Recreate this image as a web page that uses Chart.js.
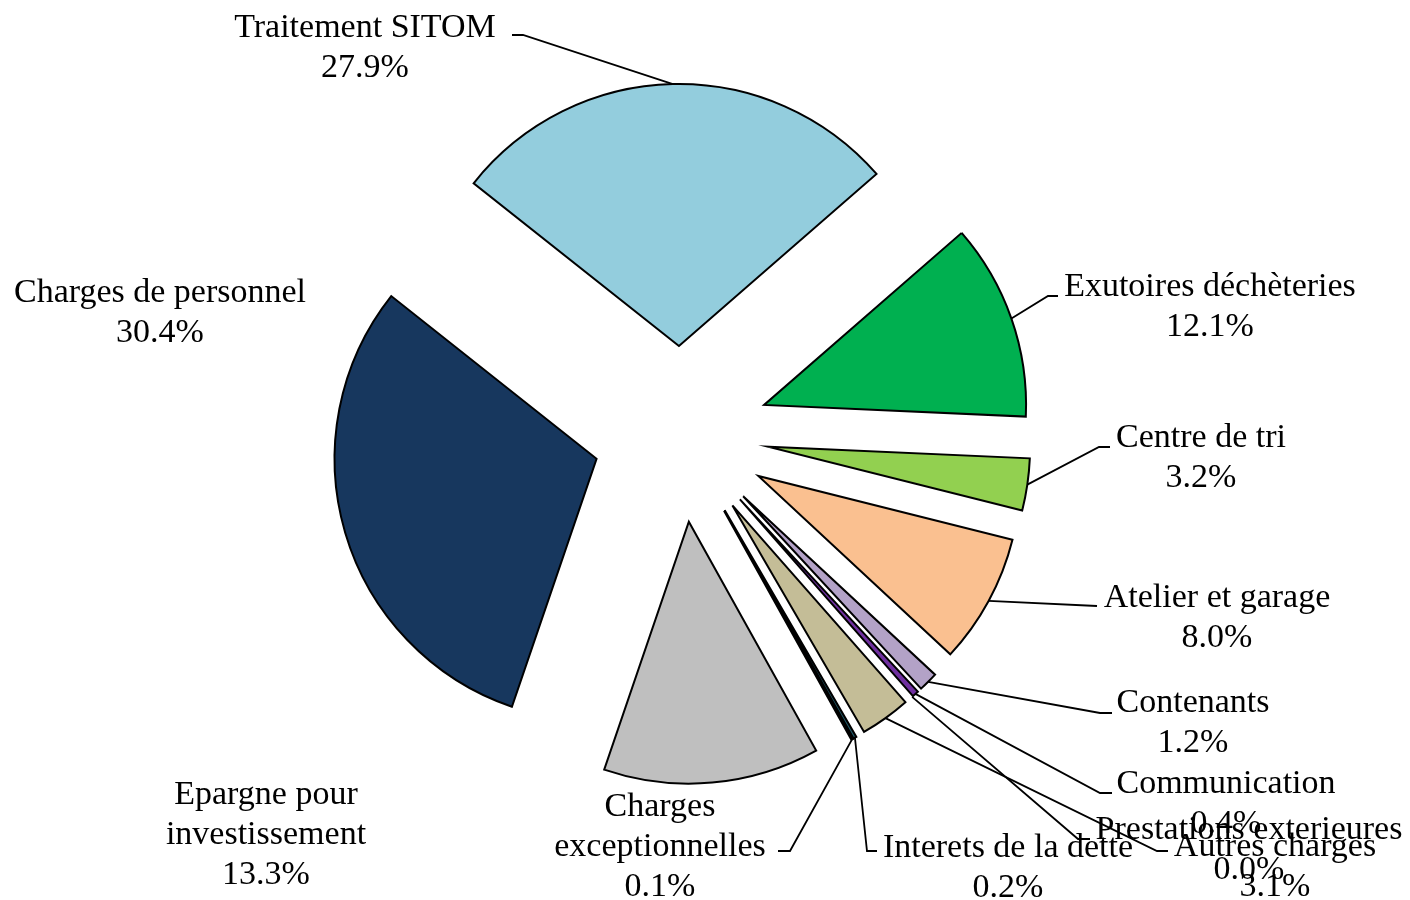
<!DOCTYPE html>
<html lang="fr">
<head>
  <meta charset="UTF-8" />
  <title>Répartition des charges</title>
  <script src="https://cdn.jsdelivr.net/npm/chart.js"></script>
  <style>
    html, body {
      margin: 0;
      padding: 0;
      background: #ffffff;
    }
    #chargesChart {
      display: block;
    }
  </style>
</head>
<body>
  <canvas id="chargesChart" width="1410" height="900"></canvas>

  <script>
    // data, clockwise from the top slice
    const categories = [
      "Traitement SITOM", "Exutoires déchèteries", "Centre de tri", "Atelier et garage",
      "Contenants", "Communication", "Prestations exterieures", "Autres charges",
      "Interets de la dette", "Charges exceptionnelles", "Epargne pour investissement",
      "Charges de personnel"
    ];
    const shares = [27.9, 12.1, 3.2, 8.0, 1.2, 0.4, 0.0, 3.1, 0.2, 0.1, 13.3, 30.4];
    const sliceColors = [
      "#93CDDD", "#00B050", "#92D050", "#FAC090",
      "#B3A2C7", "#7030A0", "#4BACC6", "#C4BD97",
      "#215968", "#1F1F1F", "#BFBFBF", "#17375E"
    ];

    // how long names are wrapped
    const wrapped = {
      "Epargne pour investissement": ["Epargne pour", "investissement"],
      "Charges exceptionnelles": ["Charges", "exceptionnelles"]
    };

    // label placement: centre x, first baseline
    const labelAt = [
      [365, 37], [1210, 296], [1201, 447], [1217, 607],
      [1193, 712], [1226, 793], [1249, 839], [1275, 856],
      [1008, 857], [660, 816], [266, 804], [160, 302]
    ];
    // leader lines: bend point then end point (null = no line)
    const leaderTo = [
      [[523, 35], [512, 35]], [[1048, 296], [1058, 296]], [[1099, 447], [1110, 447]], [[1097, 606], [1097, 606]],
      [[1100, 713], [1112, 713]], [[1100, 793], [1112, 793]], [[1078, 839], [1090, 839]], [[1157, 851], [1168, 851]],
      [[867, 851], [877, 851]], [[790, 851], [778, 851]], null, null
    ];

    const EXPLODE = 88;   // distance every slice is pulled out
    const FONT = '34px "Liberation Serif", "Times New Roman", serif';

    // draws the arcs pulled out from the centre, then the labels
    const explodedPie = {
      id: "explodedPie",
      beforeDatasetsDraw(chart) {
        const ctx = chart.ctx;
        chart.getDatasetMeta(0).data.forEach(arc => {
          const mid = (arc.startAngle + arc.endAngle) / 2;
          ctx.save();
          ctx.translate(Math.cos(mid) * EXPLODE, Math.sin(mid) * EXPLODE);
          arc.draw(ctx);
          ctx.restore();
        });
        return false;
      },
      afterDraw(chart) {
        const ctx = chart.ctx;
        ctx.save();
        ctx.strokeStyle = "#000";
        ctx.lineWidth = 1.8;
        chart.getDatasetMeta(0).data.forEach((arc, i) => {
          const lead = leaderTo[i];
          if (!lead) return;
          const mid = (arc.startAngle + arc.endAngle) / 2;
          const d = EXPLODE + arc.outerRadius;
          ctx.beginPath();
          ctx.moveTo(arc.x + Math.cos(mid) * d, arc.y + Math.sin(mid) * d);
          ctx.lineTo(lead[0][0], lead[0][1]);
          ctx.lineTo(lead[1][0], lead[1][1]);
          ctx.stroke();
        });

        ctx.fillStyle = "#000";
        ctx.font = FONT;
        ctx.textAlign = "center";
        ctx.textBaseline = "alphabetic";
        categories.forEach((name, i) => {
          const lines = (wrapped[name] || [name]).concat(shares[i].toFixed(1) + "%");
          lines.forEach((txt, k) => {
            ctx.fillText(txt, labelAt[i][0], labelAt[i][1] + k * 40);
          });
        });
        ctx.restore();
      }
    };

    new Chart(document.getElementById("chargesChart"), {
      type: "pie",
      data: {
        labels: categories,
        datasets: [{
          data: shares,
          backgroundColor: sliceColors,
          borderColor: "#000000",
          borderWidth: 2,
          borderJoinStyle: "miter"
        }]
      },
      options: {
        responsive: false,
        animation: false,
        events: [],
        rotation: -51.6,
        radius: 262,
        layout: { padding: { left: 0, right: 48, top: 0, bottom: 32 } },
        plugins: {
          legend: { display: false },
          tooltip: { enabled: false }
        }
      },
      plugins: [explodedPie]
    });
  </script>
</body>
</html>
